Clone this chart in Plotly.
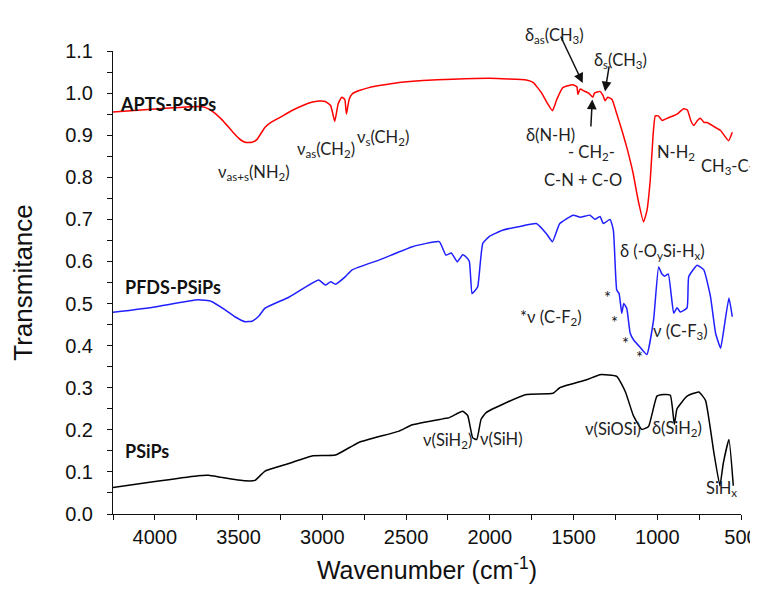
import plotly.graph_objects as go

# ---------------- data ----------------
apts_wn = [4250, 4000, 3742, 3700, 3650, 3600, 3540, 3500, 3462, 3420, 3390, 3342, 3300, 3250, 3184, 3120,
           3064, 3020, 2982, 2950, 2926, 2905, 2884, 2866, 2856, 2840, 2822, 2780, 2722, 2640, 2542, 2400,
           2224, 2000, 1782, 1740, 1690, 1655, 1626, 1600, 1564, 1504, 1480, 1474, 1460, 1442, 1410, 1385,
           1375, 1342, 1325, 1312, 1295, 1270, 1242, 1210, 1182, 1144, 1114, 1082, 1062, 1042, 1025, 1012,
           994, 970, 942, 910, 882, 842, 820, 800, 782, 760, 742, 720, 702, 660, 622, 574, 552]
apts_t = [0.955, 0.962, 0.968, 0.966, 0.955, 0.937, 0.910, 0.893, 0.883, 0.883, 0.890, 0.919, 0.932, 0.943,
          0.958, 0.970, 0.978, 0.981, 0.980, 0.970, 0.933, 0.975, 0.990, 0.985, 0.950, 0.985, 0.998, 1.006,
          1.013, 1.019, 1.025, 1.030, 1.033, 1.035, 1.031, 1.025, 1.000, 0.975, 0.958, 0.985, 1.013, 1.020,
          1.015, 0.997, 1.010, 1.006, 1.000, 0.990, 1.000, 1.004, 0.995, 0.982, 0.990, 0.985, 0.951, 0.910,
          0.871, 0.809, 0.745, 0.694, 0.720, 0.793, 0.900, 0.946, 0.946, 0.935, 0.940, 0.945, 0.950, 0.963,
          0.960, 0.935, 0.923, 0.935, 0.940, 0.930, 0.930, 0.920, 0.911, 0.887, 0.907]

pfds_wn = [4250, 4000, 3742, 3662, 3580, 3520, 3462, 3420, 3380, 3342, 3200, 3022, 2982, 2950, 2922, 2862,
           2822, 2650, 2462, 2302, 2262, 2230, 2194, 2162, 2140, 2122, 2106, 2090, 2072, 2042, 2000, 1924,
           1800, 1722, 1662, 1626, 1582, 1502, 1460, 1402, 1372, 1342, 1322, 1282, 1262, 1242, 1228, 1212,
           1200, 1182, 1162, 1142, 1100, 1062, 1022, 992, 972, 955, 934, 902, 882, 862, 822, 812, 762,
           722, 682, 652, 622, 602, 572, 552]
pfds_t = [0.479, 0.492, 0.509, 0.505, 0.485, 0.468, 0.457, 0.458, 0.470, 0.489, 0.515, 0.556, 0.544, 0.552,
          0.546, 0.564, 0.580, 0.605, 0.635, 0.647, 0.615, 0.620, 0.599, 0.616, 0.610, 0.600, 0.524, 0.530,
          0.540, 0.643, 0.660, 0.674, 0.685, 0.690, 0.666, 0.647, 0.690, 0.710, 0.705, 0.710, 0.700, 0.707,
          0.690, 0.700, 0.674, 0.532, 0.524, 0.477, 0.500, 0.488, 0.430, 0.414, 0.395, 0.379, 0.461, 0.587,
          0.570, 0.565, 0.570, 0.477, 0.490, 0.480, 0.490, 0.564, 0.591, 0.580, 0.516, 0.430, 0.394, 0.440,
          0.513, 0.469]

psips_wn = [4250, 4000, 3742, 3680, 3602, 3462, 3402, 3342, 3200, 3062, 2922, 2782, 2542, 2462, 2282,
            2242, 2162, 2132, 2102, 2078, 2052, 2022, 1900, 1782, 1622, 1582, 1422, 1342, 1242, 1190,
            1142, 1092, 1052, 1002, 962, 922, 898, 882, 822, 752, 712, 662, 626, 606, 572, 546]
psips_t = [0.063, 0.077, 0.091, 0.092, 0.087, 0.079, 0.080, 0.102, 0.120, 0.138, 0.140, 0.170, 0.197, 0.212, 0.226,
           0.229, 0.244, 0.234, 0.181, 0.177, 0.225, 0.241, 0.265, 0.284, 0.287, 0.300, 0.319, 0.331, 0.327, 0.290,
           0.233, 0.201, 0.208, 0.280, 0.284, 0.282, 0.213, 0.250, 0.280, 0.290, 0.270, 0.146, 0.067, 0.120, 0.177,
           0.067]

x_ticks = [4000, 3500, 3000, 2500, 2000, 1500, 1000, 500]
y_ticks = [0.0, 0.1, 0.2, 0.3, 0.4, 0.5, 0.6, 0.7, 0.8, 0.9, 1.0, 1.1]
y_range = [0, 1.1]

# series name labels: (text, wavenumber, transmittance)
series_labels = [("APTS-PSiPs", 4212, 1.002), ("PFDS-PSiPs", 4182, 0.540), ("PSiPs", 4182, 0.121)]

# band labels: (text, wavenumber, transmittance)
band_labels = [
    ("ν<sub>as+s</sub>(NH<sub>2</sub>)", 3409, 0.842),
    ("ν<sub>as</sub>(CH<sub>2</sub>)", 2976, 0.895),
    ("ν<sub>s</sub>(CH<sub>2</sub>)", 2640, 0.925),
    ("δ<sub>as</sub>(CH<sub>3</sub>)", 1616, 1.166),
    ("δ<sub>s</sub>(CH<sub>3</sub>)", 1222, 1.106),
    ("δ(N-H)", 1640, 0.929),
    ("- CH<sub>2</sub>-", 1392, 0.889),
    ("C-N + C-O", 1446, 0.822),
    ("N-H<sub>2</sub>", 889, 0.889),
    ("CH<sub>3</sub>-C-", 580, 0.856),
    ("δ (-O<sub>y</sub>Si-H<sub>x</sub>)", 968, 0.624),
    ("*ν (C-F<sub>2</sub>)", 1635, 0.466),
    ("ν (C-F<sub>3</sub>)", 864, 0.434),
    ("*", 1298, 0.513), ("*", 1258, 0.454), ("*", 1192, 0.405), ("*", 1109, 0.371),
    ("ν(SiH<sub>2</sub>)", 2254, 0.146),
    ("ν(SiH)", 1928, 0.150),
    ("ν(SiOSi)", 1264, 0.173),
    ("δ(SiH<sub>2</sub>)", 884, 0.173),
    ("SiH<sub>x</sub>", 615, 0.032),
]

# arrows: (head wn, head T, tail wn, tail T)
arrows = [(1445, 1.024, 1581, 1.138), (1312, 1.004, 1286, 1.067), (1388, 0.985, 1397, 0.917)]


def yd(t):
    # transmittance -> fraction of the y-axis domain
    return (t - y_range[0]) / (y_range[1] - y_range[0])


# ---------------- figure ----------------
fig = go.Figure()
for wn, t, col in [(apts_wn, apts_t, "#ff0000"), (pfds_wn, pfds_t, "#1f1fff"), (psips_wn, psips_t, "#000000")]:
    fig.add_trace(go.Scatter(x=wn, y=t, mode="lines",
                             line=dict(color=col, width=1.5, shape="spline", smoothing=0.4),
                             showlegend=False, hoverinfo="skip"))

lab_font = dict(family="Lato, Open Sans, sans-serif", size=16.5, color="#222222")
for txt, x, y in series_labels:
    fig.add_annotation(x=x, y=yd(y), yref="y domain", text="<b>%s</b>" % txt, showarrow=False,
                       xanchor="left", borderpad=0,
                       font=dict(family="Lato, Open Sans, sans-serif", size=18, color="#111111"))
for txt, x, y in band_labels:
    fig.add_annotation(x=x, y=yd(y), yref="y domain", text=txt, showarrow=False, font=lab_font)
for hx, hy, tx, ty in arrows:
    fig.add_annotation(x=hx, y=yd(hy), yref="y domain", ax=tx, ay=yd(ty), axref="x", ayref="y domain",
                       text="", showarrow=True, arrowhead=2, arrowsize=1.3, arrowwidth=1.5,
                       arrowcolor="#111111", standoff=0)

axis_font = dict(family="Liberation Sans, Arial, sans-serif", size=20, color="#111111")
fig.update_xaxes(range=[4250, 500], tickvals=x_ticks, ticks="outside", ticklen=5, tickwidth=1,
                 tickcolor="#111111", showline=True, linecolor="#111111", linewidth=1,
                 showgrid=False, zeroline=False, tickfont=axis_font, automargin=False,
                 minor=dict(dtick=250, tick0=500, ticks="outside", ticklen=5, tickcolor="#111111"),
                 title=dict(text="Wavenumber (cm<sup>-1</sup>)",
                            font=dict(family="Liberation Sans, Arial, sans-serif", size=25, color="#111111"),
                            standoff=14))
fig.update_yaxes(range=y_range, tickvals=y_ticks, tickformat=".1f", ticks="outside", ticklen=5,
                 tickwidth=1, tickcolor="#111111", showline=True, linecolor="#111111", linewidth=1,
                 showgrid=False, zeroline=False, tickfont=axis_font, ticklabelstandoff=10, automargin=False,
                 minor=dict(dtick=0.05, tick0=0, ticks="outside", ticklen=5, tickcolor="#111111"),
                 title=dict(text="Transmitance",
                            font=dict(family="Liberation Sans, Arial, sans-serif", size=26, color="#111111"),
                            standoff=26))
# the page body adds an 8px offset, so the figure is sized to fit inside the window
fig.update_layout(width=750, height=584, margin=dict(l=105, r=17, t=43, b=78),
                  plot_bgcolor="white", paper_bgcolor="white")
fig.write_html("out.html")
